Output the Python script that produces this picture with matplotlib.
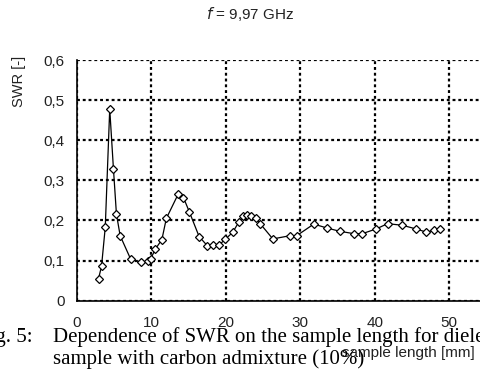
import matplotlib
matplotlib.use('Agg')
import matplotlib.pyplot as plt
from matplotlib.ticker import FuncFormatter

# sample length [mm] and SWR [-]
length = [2.9, 3.3, 3.8, 4.4, 4.9, 5.3, 5.8, 7.2, 8.6, 9.6, 9.9, 10.5, 11.4,
          12.0, 13.6, 14.3, 15.1, 16.4, 17.5, 18.3, 19.1, 19.9, 20.9, 21.7,
          22.3, 22.8, 23.4, 24.1, 24.6, 26.3, 28.6, 29.5, 31.8, 33.6, 35.3,
          37.2, 38.3, 40.2, 41.7, 43.7, 45.5, 46.9, 47.9, 48.8]
swr = [0.055, 0.086, 0.183, 0.478, 0.328, 0.216, 0.162, 0.104, 0.096, 0.098,
       0.104, 0.128, 0.152, 0.205, 0.266, 0.257, 0.221, 0.160, 0.137, 0.139,
       0.139, 0.153, 0.170, 0.195, 0.210, 0.214, 0.210, 0.205, 0.192, 0.154,
       0.162, 0.162, 0.191, 0.181, 0.173, 0.167, 0.167, 0.179, 0.192, 0.188,
       0.179, 0.171, 0.175, 0.179]

x_ticks = [0, 10, 20, 30, 40, 50, 60]
y_ticks = [0, 0.1, 0.2, 0.3, 0.4, 0.5, 0.6]

plt.rcParams['font.family'] = ['Liberation Sans', 'DejaVu Sans']

fig = plt.figure(figsize=(4.81, 3.72), dpi=100)
ax = fig.add_axes([0.160, 0.1917, 0.929, 0.647])

ax.plot(length, swr, color='black', lw=0.9, marker='D', ms=4.5,
        mfc='white', mec='black', mew=0.9, zorder=3)

ax.set_xlim(0, 60)
ax.set_ylim(0, 0.6)
ax.set_xticks(x_ticks)
ax.set_yticks(y_ticks)
ax.yaxis.set_major_formatter(FuncFormatter(
    lambda v, p: '0' if v == 0 else ('%.1f' % v).replace('.', ',')))
ax.tick_params(length=0, labelsize=11, colors='#222222')
ax.tick_params(axis='y', pad=9)
ax.tick_params(axis='x', pad=11)

ax.grid(True, color='black', lw=1.6, linestyle=(0, (1.3, 1.3)))
ax.spines['top'].set_visible(False)
ax.spines['right'].set_visible(False)
for s in ['left', 'bottom']:
    ax.spines[s].set_linewidth(1.2)
    ax.spines[s].set_zorder(4)

fig.text(0.52, 0.962, r'$f$ = 9,97 GHz', ha='center', va='center',
         fontsize=11, color='#222222')
fig.text(0.040, 0.78, 'SWR [-]', rotation=90, ha='center', va='center',
         fontsize=10.5, color='#222222')
fig.text(342 / 481, 1 - 357 / 372, 'sample length [mm]', ha='left',
         va='baseline', fontsize=11, color='#222222')

# caption from the page below the chart
cap = dict(family=['Liberation Serif', 'DejaVu Serif'], fontsize=15,
           va='baseline', color='black')
fig.text(33 / 481, 1 - 342 / 372, 'Fig. 5:', ha='right', **cap)
fig.text(53 / 481, 1 - 342 / 372,
         'Dependence of SWR on the sample length for dielectric', ha='left', **cap)
fig.text(53 / 481, 1 - 364 / 372,
         'sample with carbon admixture (10%)', ha='left', **cap)

fig.savefig('out.png', dpi=100)
